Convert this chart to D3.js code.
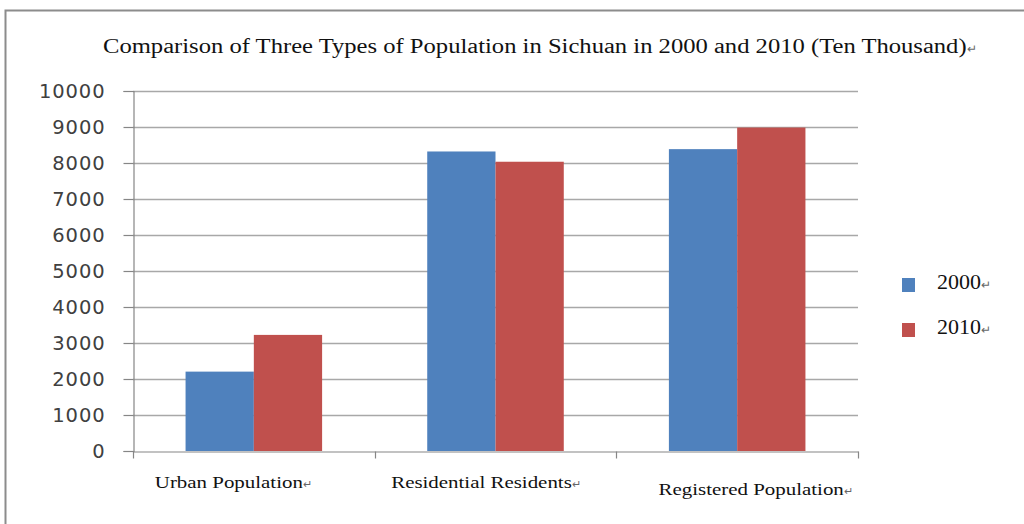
<!DOCTYPE html>
<html>
<head>
<meta charset="utf-8">
<script src="https://cdn.jsdelivr.net/npm/d3@7"></script>
<style>
  body { margin: 0; background: #fff; }
</style>
</head>
<body>
<div id="chart"></div>
<script>
// chart data
const categories = ["Urban Population", "Residential Residents", "Registered Population"];
const seriesNames = ["2000", "2010"];
const values2000 = [2205, 8320, 8385];
const values2010 = [3225, 8035, 8985];
const yTicks = [0, 1000, 2000, 3000, 4000, 5000, 6000, 7000, 8000, 9000, 10000];
const titleText = "Comparison of Three Types of Population in Sichuan in 2000 and 2010 (Ten Thousand)";

const W = 1024, H = 524;
const colors = ["#4F81BD", "#C0504D"];
const margin = { top: 91, left: 133, right: 166, bottom: 73 };
const plotW = W - margin.left - margin.right;
const plotH = H - margin.top - margin.bottom;
const serif = "Liberation Serif, serif";
const stretch = 1.23; // the picture's serif text is wider than Liberation Serif

// widen a tspan horizontally by the stretch factor
const widen = (sel) => sel.each(function () {
  const len = this.getComputedTextLength();
  d3.select(this).attr("textLength", len * stretch).attr("lengthAdjust", "spacingAndGlyphs");
});

const svg = d3.select("#chart").append("svg")
  .attr("width", W).attr("height", H);

// outer frame (only top/left visible in the picture)
svg.append("path")
  .attr("d", `M5.5,${H} V10.5 H${W}`)
  .attr("fill", "none").attr("stroke", "#8c8c8c").attr("stroke-width", 2);

// title
const title = svg.append("text")
  .attr("x", 103).attr("y", 53)
  .attr("font-family", serif)
  .attr("font-size", 20)
  .attr("fill", "#111");
title.append("tspan").text(titleText).call(widen);
title.append("tspan").attr("font-size", 12).attr("fill", "#666").text("↵");

const g = svg.append("g").attr("transform", `translate(${margin.left},${margin.top})`);

const y = d3.scaleLinear().domain([0, 10000]).range([plotH, 0]);
const x0 = d3.scaleBand().domain(categories).range([0, plotW]).paddingInner(0.435).paddingOuter(0.2175);
const x1 = d3.scaleBand().domain(seriesNames).range([0, x0.bandwidth()]);

// gridlines
g.append("g").selectAll("line")
  .data(yTicks.filter(d => d > 0))
  .join("line")
  .attr("x1", 0).attr("x2", plotW)
  .attr("y1", d => Math.round(y(d)) + 0.5).attr("y2", d => Math.round(y(d)) + 0.5)
  .attr("stroke", "#a8a8a8").attr("stroke-width", 1.5);

// y axis
const yAxis = g.append("g")
  .attr("transform", "translate(0.5,0)")
  .call(d3.axisLeft(y).tickValues(yTicks).tickSize(10).tickPadding(18).tickFormat(d3.format("d")));
yAxis.select(".domain").attr("stroke", "#868686").attr("stroke-width", 1.2);
yAxis.selectAll(".tick line").attr("stroke", "#868686").attr("stroke-width", 1.2);
yAxis.selectAll(".tick text")
  .attr("font-family", "DejaVu Sans, sans-serif")
  .attr("font-size", 19.5)
  .attr("letter-spacing", 0.9)
  .attr("fill", "#404040");

// bars
const rows = categories.map((c, i) => ({ cat: c, vals: [values2000[i], values2010[i]] }));
g.append("g").selectAll("g")
  .data(rows)
  .join("g")
  .attr("transform", d => `translate(${x0(d.cat)},0)`)
  .selectAll("rect")
  .data(d => d.vals.map((v, j) => ({ key: seriesNames[j], v, j })))
  .join("rect")
  .attr("x", d => x1(d.key))
  .attr("y", d => y(d.v))
  .attr("width", x1.bandwidth())
  .attr("height", d => plotH - y(d.v))
  .attr("fill", d => colors[d.j]);

// x axis
const xAxis = g.append("g")
  .attr("transform", `translate(0,${plotH + 0.5})`)
  .call(d3.axisBottom(x0).tickSize(0).tickFormat(""));
xAxis.select(".domain").attr("stroke", "#868686").attr("stroke-width", 1.2);
xAxis.selectAll(".tick").remove();
// category boundary ticks
const bounds = d3.range(categories.length + 1).map(i => i * plotW / categories.length);
xAxis.selectAll("line.bnd")
  .data(bounds)
  .join("line")
  .attr("class", "bnd")
  .attr("x1", d => Math.round(d) + 0.5).attr("x2", d => Math.round(d) + 0.5)
  .attr("y1", 0).attr("y2", 7)
  .attr("stroke", "#868686").attr("stroke-width", 1.2);

// category labels (offsets mimic the uneven placement in the picture)
const labelDx = [-25, -14, 14];
const labelDy = [0, 0, 7];
const labs = g.append("g").selectAll("text")
  .data(categories)
  .join("text")
  .attr("x", (d, i) => x0(d) + x0.bandwidth() / 2 + labelDx[i])
  .attr("y", (d, i) => plotH + 37 + labelDy[i])
  .attr("font-family", serif)
  .attr("font-size", 17)
  .attr("fill", "#111");
labs.append("tspan").text(d => d).call(widen);
labs.append("tspan").attr("font-size", 11).attr("fill", "#666").text("↵");
// center the main text (without the return mark) on the anchor x
labs.each(function () {
  const t = d3.select(this);
  const w = t.select("tspan").node().getComputedTextLength();
  t.attr("x", +t.attr("x") - w / 2);
});

// legend
const legend = svg.append("g").selectAll("g")
  .data(seriesNames)
  .join("g")
  .attr("transform", (d, i) => `translate(902,${278 + i * 45})`);
legend.append("rect")
  .attr("width", 13).attr("height", 14)
  .attr("fill", (d, i) => colors[i]);
const legText = legend.append("text")
  .attr("x", 35).attr("y", 11)
  .attr("font-family", serif)
  .attr("font-size", 22)
  .attr("fill", "#111");
legText.append("tspan").text(d => d);
legText.append("tspan").attr("font-size", 12).attr("fill", "#666").text("↵");
</script>
</body>
</html>
